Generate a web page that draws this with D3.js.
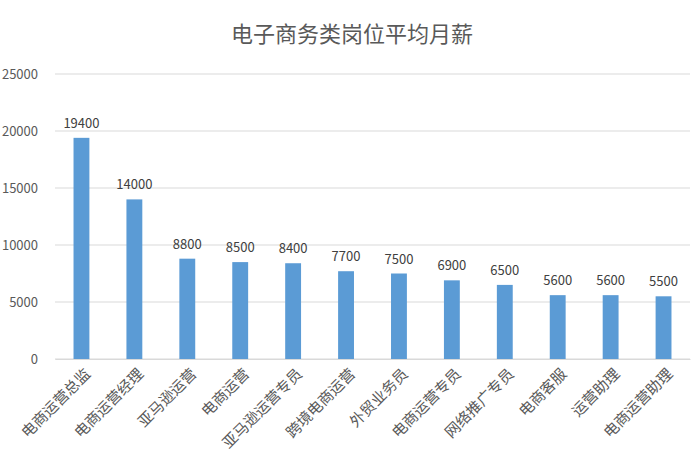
<!DOCTYPE html>
<html>
<head>
<meta charset="utf-8">
<script src="https://cdn.jsdelivr.net/npm/d3@7"></script>
<style>
  body { margin: 0; background: #fff; }
  svg { font-family: "Noto Sans CJK SC", "Noto Sans", sans-serif; }
</style>
</head>
<body>
<div id="chart"></div>
<script>
// job titles and average monthly salary
const categories = ["电商运营总监", "电商运营经理", "亚马逊运营", "电商运营", "亚马逊运营专员",
  "跨境电商运营", "外贸业务员", "电商运营专员", "网络推广专员", "电商客服", "运营助理", "电商运营助理"];
const salaries = [19400, 14000, 8800, 8500, 8400, 7700, 7500, 6900, 6500, 5600, 5600, 5500];
const yTicks = [0, 5000, 10000, 15000, 20000, 25000];

const width = 700, height = 470;
const margin = {top: 74, right: 10, bottom: 111, left: 55};

const svg = d3.select("#chart").append("svg")
  .attr("width", width)
  .attr("height", height);

svg.append("text")
  .attr("x", 352)
  .attr("y", 42)
  .attr("text-anchor", "middle")
  .style("font-size", "22px")
  .style("fill", "#595959")
  .text("电子商务类岗位平均月薪");

const g = svg.append("g").attr("transform", "translate(" + margin.left + "," + margin.top + ")");
const w = width - margin.left - margin.right,
      h = height - margin.top - margin.bottom;

const x = d3.scaleBand().domain(categories).range([0, w]).paddingInner(0.7).paddingOuter(0.35);
const y = d3.scaleLinear().domain([0, 25000]).range([h, 0]);

// gridlines
g.append("g")
  .selectAll("line")
  .data(yTicks)
  .join("line")
  .attr("x1", 0).attr("x2", w)
  .attr("y1", d => y(d)).attr("y2", d => y(d))
  .style("stroke", "#d9d9d9")
  .style("stroke-width", 1);

// y axis labels
const yAxis = d3.axisLeft(y).tickValues(yTicks).tickFormat(d3.format("d")).tickSize(0).tickPadding(17);
g.append("g").call(yAxis)
  .call(s => s.select(".domain").remove())
  .selectAll("text")
  .style("font-size", "13px")
  .style("fill", "#595959")
  .style("font-family", "\"Noto Sans CJK SC\", sans-serif");

// bars
g.selectAll(".bar")
  .data(salaries)
  .join("rect")
  .attr("class", "bar")
  .attr("x", (d, i) => x(categories[i]))
  .attr("y", d => y(d))
  .attr("width", x.bandwidth())
  .attr("height", d => h - y(d))
  .style("fill", "#5b9bd5");

// value labels
g.selectAll(".val")
  .data(salaries)
  .join("text")
  .attr("class", "val")
  .attr("x", (d, i) => x(categories[i]) + x.bandwidth() / 2)
  .attr("y", d => y(d) - 10)
  .attr("text-anchor", "middle")
  .style("font-size", "13px")
  .style("fill", "#404040")
  .text(d => d);

// x axis
const xAxis = d3.axisBottom(x).tickSize(0).tickPadding(0);
const xg = g.append("g").attr("transform", "translate(0," + h + ")").call(xAxis);
xg.select(".domain").style("stroke", "#d9d9d9");
xg.selectAll("text")
  .attr("text-anchor", "end")
  .attr("dy", 0)
  .attr("transform", "translate(10,16) rotate(-45)")
  .style("font-size", "15px")
  .style("fill", "#595959")
  .style("font-family", "\"Noto Sans CJK SC\", sans-serif");
</script>
</body>
</html>
